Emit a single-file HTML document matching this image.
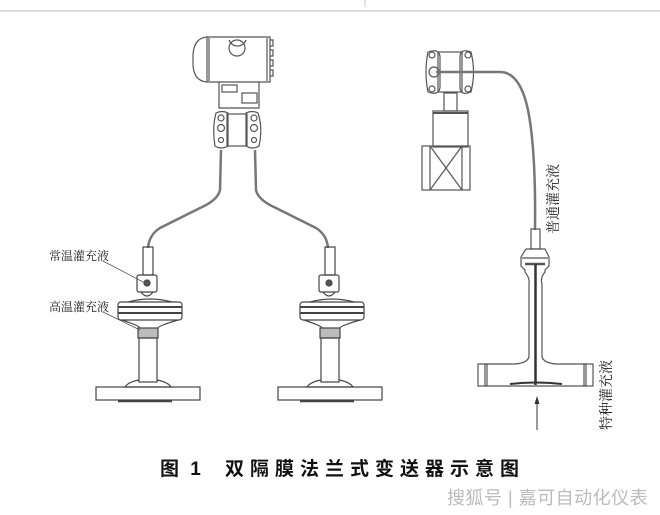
<!DOCTYPE html>
<html><head><meta charset="utf-8"><style>
html,body{margin:0;padding:0;background:#fff;}
svg{display:block;}
text{font-family:"Liberation Serif","Noto Serif CJK SC",serif;}
text.sans{font-family:"Liberation Sans","Noto Sans CJK SC",sans-serif;}
</style></head><body>
<svg width="660" height="515" viewBox="0 0 660 515" xmlns="http://www.w3.org/2000/svg">
<rect width="660" height="515" fill="#fff"/>
<line x1="0" y1="11" x2="660" y2="11" stroke="#ddd" stroke-width="2"/>
<line x1="365" y1="0" x2="365" y2="7" stroke="#ccc" stroke-width="1"/>
<g fill="none" stroke="#555" stroke-width="1.2">
<path d="M207 37 H270 V82 H207 Z"/>
<path d="M207 37 Q192 38 193 60 Q192 81 207 82"/>
<line x1="209" y1="38" x2="209" y2="81"/>
<line x1="267" y1="38" x2="267" y2="81"/>
<path d="M229 40 A9 9 0 0 0 246 40"/>
<circle cx="237" cy="48" r="8"/>
<path d="M270 40h3v6h-3M270 50h3v6h-3M270 60h3v6h-3M270 70h3v6h-3"/>
<path d="M219 82 V108 H259 V82"/>
<rect x="222" y="85" width="15" height="7"/>
<rect x="242" y="93" width="15" height="10"/>
<rect x="227" y="114" width="20" height="32"/>
<path d="M216 113 Q212 128 215 146 Q221 150 228 146 V113 Q222 110 216 113Z"/>
<path d="M258 113 Q263 128 259 146 Q253 150 246 146 V113 Q252 110 258 113Z"/>
<circle cx="221" cy="118" r="3"/><circle cx="221" cy="128" r="3.5"/><circle cx="221" cy="140" r="2.5"/>
<circle cx="254" cy="118" r="3"/><circle cx="254" cy="128" r="3.5"/><circle cx="254" cy="140" r="2.5"/>
<path d="M221 150 L220 190 Q218 200 200 208 L160 228 Q149 235 148 248" stroke-width="2.5" stroke="#777"/>
<path d="M255 150 L256 190 Q258 200 276 208 L316 228 Q327 235 328 248" stroke-width="2.5" stroke="#777"/>
</g>
<g id="seal" fill="none" stroke="#444" stroke-width="1.2">
<rect x="143" y="247" width="10" height="28"/>
<rect x="137" y="275" width="20" height="17" rx="2"/>
<circle cx="147" cy="283" r="3" fill="#555"/>
<path d="M141 292 Q147 300 153 292"/>
<path d="M128 302 Q150 296 172 302"/>
<rect x="118" y="302" width="64" height="18" rx="3"/>
<line x1="118" y1="307" x2="182" y2="307" stroke-width="2"/>
<line x1="118" y1="313" x2="182" y2="313" stroke-width="2"/>
<path d="M122 320 Q140 326 140 328 M178 320 Q158 326 158 328"/>
<rect x="138" y="328" width="20" height="10" fill="#bbb"/>
<rect x="139" y="338" width="18" height="44"/>
<path d="M139 380 Q128 382 125 387 H171 Q168 382 157 380"/>
<rect x="96" y="387" width="104" height="13"/>
<line x1="118" y1="401" x2="172" y2="401" stroke-width="2.5"/>
</g>
<use href="#seal" transform="translate(182,0)"/>
<text x="49" y="260" font-size="12" fill="#222">常温灌充液</text>
<text x="49" y="311" font-size="12" fill="#222">高温灌充液</text>
<line x1="103" y1="261" x2="145" y2="283" stroke="#555" stroke-width="0.8"/>
<line x1="103" y1="312" x2="140" y2="330" stroke="#555" stroke-width="0.8"/>
<g fill="none" stroke="#555" stroke-width="1.2">
<rect x="438" y="52" width="24" height="40"/>
<path d="M428 52 Q424 72 428 92 Q438 96 440 88 V56 Q438 48 428 52Z"/>
<path d="M471 52 Q476 72 471 92 Q461 96 460 88 V56 Q461 48 471 52Z"/>
<circle cx="434" cy="72" r="5"/><circle cx="432" cy="55" r="3"/><circle cx="432" cy="89" r="3"/>
<circle cx="468" cy="55" r="3"/><circle cx="468" cy="89" r="3"/>
<rect x="444" y="93" width="13" height="18"/>
<rect x="433" y="111" width="35" height="36"/>
<line x1="433" y1="113" x2="468" y2="113" stroke-width="2"/>
<rect x="422" y="146" width="48" height="44"/>
<line x1="430" y1="146" x2="430" y2="190"/><line x1="462" y1="146" x2="462" y2="190"/>
<line x1="430" y1="146" x2="462" y2="190"/><line x1="462" y1="146" x2="430" y2="190"/>
<path d="M436 72 H500 Q520 72 528 110 Q536 150 535 230" stroke-width="2.5" stroke="#777"/>
<rect x="531" y="229" width="9" height="20"/>
<path d="M526 249 H545 L549 257 V266 L545 270 V272 Q540 278 542 284 V357 M526 249 L521 257 V266 L525 270 V272 Q530 278 529 284 V357"/>
<line x1="522" y1="258" x2="548" y2="258"/>
<line x1="525" y1="264" x2="545" y2="264" stroke-width="2.5"/>
<line x1="535.5" y1="264" x2="535.5" y2="385" stroke="#333" stroke-width="2.5"/>
<path d="M529 357 Q527 363 515 364 H485 V386 H586 V364 H556 Q544 363 542 357"/>
<rect x="478" y="364" width="9" height="22"/><rect x="584" y="364" width="9" height="22"/>
<path d="M510 384 Q536 381 562 384" stroke="#333" stroke-width="2"/>
<line x1="537" y1="430" x2="537" y2="400" stroke="#333" stroke-width="1"/>
</g>
<path d="M534.5 404 L537 396 L539.5 404Z" fill="#333"/>
<text transform="translate(558,234) rotate(-90)" font-size="14" fill="#222">普通灌充液</text>
<text transform="translate(611,430) rotate(-90)" font-size="14" fill="#222">特种灌充液</text>
<text class="sans" x="160" y="475" font-size="19" font-weight="bold" fill="#111" letter-spacing="3">图 1</text>
<text class="sans" x="225" y="475" font-size="19" font-weight="bold" fill="#111" letter-spacing="6">双隔膜法兰式变送器示意图</text>
<text class="sans" x="447" y="504" font-size="18" fill="#bbb" letter-spacing="0.5">搜狐号 | 嘉可自动化仪表</text>
</svg>
</body></html>
